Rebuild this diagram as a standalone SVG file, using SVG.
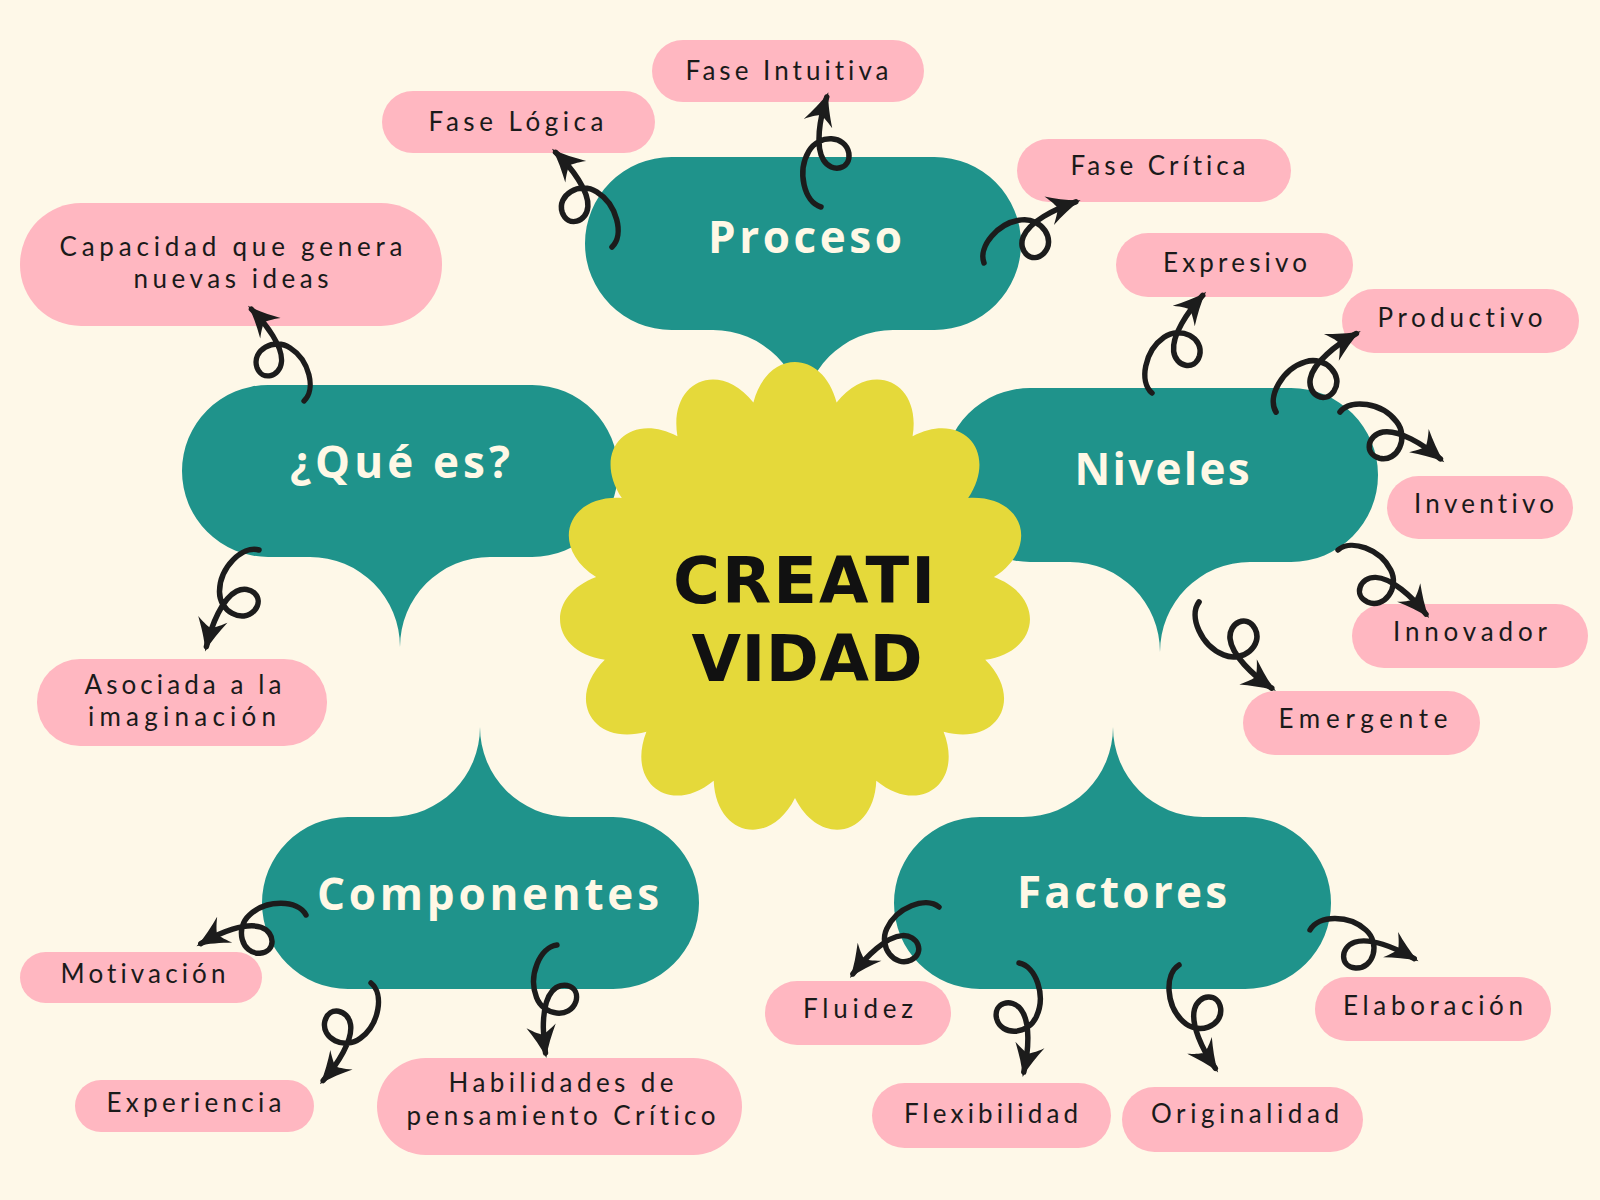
<svg xmlns="http://www.w3.org/2000/svg" xmlns:xlink="http://www.w3.org/1999/xlink" width="1600" height="1200" viewBox="0 0 1600 1200">
<style>
.bubble{fill:#1f938b}
.pill{fill:#ffb7c1}
.title{font-family:"Open Sans","DejaVu Sans",sans-serif;font-weight:700;font-size:44px;fill:#fff8e6;text-anchor:middle}
.center{font-family:"DejaVu Sans","Open Sans",sans-serif;font-weight:700;font-size:64px;fill:#111111;text-anchor:middle}
.lbl{font-family:Lato,"Liberation Sans",sans-serif;font-weight:400;font-size:26px;fill:#1a1a1a;text-anchor:middle;font-variant-ligatures:none;font-feature-settings:"liga" 0}
.curl{fill:none;stroke:#1c1c1c;stroke-width:5.5;stroke-linecap:round;stroke-linejoin:round}
</style>
<defs>
<marker id="ah" markerUnits="userSpaceOnUse" markerWidth="44" markerHeight="44" viewBox="-32 -22 44 44" refX="0" refY="0" orient="auto" overflow="visible">
<path d="M5,0 C-7,-3.5 -18,-9.5 -28,-15 C-22,-7 -20,-2.5 -19,0 C-20,2.5 -22,7 -28,15 C-18,9.5 -7,3.5 5,0Z" fill="#1c1c1c"/>
</marker>
<path id="curl" class="curl" marker-end="url(#ah)" d="M0,0 C4,-17 34,-26 55,-15 C73,-6 73,21 55,25 C39,28 34,9 47,0 C60,-9 88,-6 110,0"/>
</defs>
<rect width="1600" height="1200" fill="#fef8e8"/>

<g id="n-proceso">
<path class="bubble" d="M671.5,157 H934.5 A86.5,86.5 0 0 1 934.5,330 H893 A90,90 0 0 0 803,420 A90,90 0 0 0 713,330 H671.5 A86.5,86.5 0 0 1 671.5,157 Z"/>
<text class="title" x="805" y="253" textLength="194" lengthAdjust="spacing">Proceso</text>
</g>
<g id="n-que-es">
<path class="bubble" d="M268,385 H532 A86,86 0 0 1 532,557 H490 A90,90 0 0 0 400,647 A90,90 0 0 0 310,557 H268 A86,86 0 0 1 268,385 Z"/>
<text class="title" x="400" y="478" textLength="220" lengthAdjust="spacing">¿Qué es?</text>
</g>
<g id="n-niveles">
<path class="bubble" d="M1030,388 H1291 A87,87 0 0 1 1291,562 H1250 A90,90 0 0 0 1160,652 A90,90 0 0 0 1070,562 H1030 A87,87 0 0 1 1030,388 Z"/>
<text class="title" x="1162" y="485" textLength="175" lengthAdjust="spacing">Niveles</text>
</g>
<g id="n-componentes">
<path class="bubble" d="M348,817 H390 A90,90 0 0 0 480,727 A90,90 0 0 0 570,817 H613 A86,86 0 0 1 613,989 H348 A86,86 0 0 1 348,817 Z"/>
<text class="title" x="488" y="910" textLength="342" lengthAdjust="spacing">Componentes</text>
</g>
<g id="n-factores">
<path class="bubble" d="M980,817 H1023 A90,90 0 0 0 1113,727 A90,90 0 0 0 1203,817 H1245 A86,86 0 0 1 1245,989 H980 A86,86 0 0 1 980,817 Z"/>
<text class="title" x="1122" y="908" textLength="210" lengthAdjust="spacing">Factores</text>
</g>

<g id="n-creatividad">
<path fill="#e5d93a" d="M753.4,402.4 C767.4,348.4 822.6,348.4 836.6,402.4 C871.3,358.8 921.7,381.2 912.6,436.2 C962,410.5 999,451.5 968.2,498 C1023.9,494.7 1040.9,547.2 993.9,577.1 C1046.1,596.7 1040.3,651.6 985.2,659.8 C1025,698.9 997.4,746.7 943.6,731.8 C964,783.7 919.4,816.1 876.3,780.7 C873.9,836.4 819.9,847.8 795,798 C770.1,847.8 716.1,836.4 713.7,780.7 C670.6,816.1 626,783.7 646.4,731.8 C592.6,746.7 565,698.9 604.8,659.8 C549.7,651.6 543.9,596.7 596.1,577.1 C549.1,547.2 566.1,494.7 621.8,498 C591,451.5 628,410.5 677.4,436.2 C668.3,381.2 718.7,358.8 753.4,402.4 Z"/>
<text class="center" x="804" y="603" textLength="262" lengthAdjust="spacing">CREATI</text>
<text class="center" x="807" y="681" textLength="231" lengthAdjust="spacing">VIDAD</text>
</g>

<g id="n-capacidad">
<rect class="pill" x="20" y="203" width="422" height="123" rx="61"/>
<text class="lbl" x="231" y="256" textLength="343" lengthAdjust="spacing">Capacidad que genera</text>
<text class="lbl" x="231" y="288" textLength="195" lengthAdjust="spacing">nuevas ideas</text>
</g>
<g id="n-asociada">
<rect class="pill" x="37" y="659" width="290" height="87" rx="43"/>
<text class="lbl" x="183" y="694" textLength="197" lengthAdjust="spacing">Asociada a la</text>
<text class="lbl" x="182" y="726" textLength="188" lengthAdjust="spacing">imaginación</text>
</g>
<g id="n-fase-logica">
<rect class="pill" x="382" y="91" width="273" height="62" rx="31"/>
<text class="lbl" x="516" y="131" textLength="175" lengthAdjust="spacing">Fase Lógica</text>
</g>
<g id="n-fase-intuitiva">
<rect class="pill" x="652" y="40" width="272" height="62" rx="31"/>
<text class="lbl" x="787" y="80" textLength="203" lengthAdjust="spacing">Fase Intuitiva</text>
</g>
<g id="n-fase-critica">
<rect class="pill" x="1017" y="139" width="274" height="63" rx="31.5"/>
<text class="lbl" x="1158" y="175" textLength="175" lengthAdjust="spacing">Fase Crítica</text>
</g>
<g id="n-expresivo">
<rect class="pill" x="1116" y="233" width="237" height="64" rx="32"/>
<text class="lbl" x="1235" y="272" textLength="144" lengthAdjust="spacing">Expresivo</text>
</g>
<g id="n-productivo">
<rect class="pill" x="1342" y="289" width="237" height="64" rx="32"/>
<text class="lbl" x="1460" y="327" textLength="165" lengthAdjust="spacing">Productivo</text>
</g>
<g id="n-inventivo">
<rect class="pill" x="1387" y="476" width="186" height="63" rx="31.5"/>
<text class="lbl" x="1484" y="513" textLength="140" lengthAdjust="spacing">Inventivo</text>
</g>
<g id="n-innovador">
<rect class="pill" x="1352" y="604" width="236" height="64" rx="32"/>
<text class="lbl" x="1470" y="641" textLength="154" lengthAdjust="spacing">Innovador</text>
</g>
<g id="n-emergente">
<rect class="pill" x="1243" y="691" width="237" height="64" rx="32"/>
<text class="lbl" x="1363" y="728" textLength="169" lengthAdjust="spacing">Emergente</text>
</g>
<g id="n-motivacion">
<rect class="pill" x="20" y="952" width="242" height="51" rx="25.5"/>
<text class="lbl" x="143" y="983" textLength="165" lengthAdjust="spacing">Motivación</text>
</g>
<g id="n-experiencia">
<rect class="pill" x="75" y="1080" width="239" height="52" rx="26"/>
<text class="lbl" x="194" y="1112" textLength="175" lengthAdjust="spacing">Experiencia</text>
</g>
<g id="n-habilidades">
<rect class="pill" x="377" y="1058" width="365" height="97" rx="48.5"/>
<text class="lbl" x="561" y="1092" textLength="225" lengthAdjust="spacing">Habilidades de</text>
<text class="lbl" x="561" y="1125" textLength="309" lengthAdjust="spacing">pensamiento Crítico</text>
</g>
<g id="n-fluidez">
<rect class="pill" x="765" y="981" width="186" height="64" rx="32"/>
<text class="lbl" x="858" y="1018" textLength="110" lengthAdjust="spacing">Fluidez</text>
</g>
<g id="n-flexibilidad">
<rect class="pill" x="872" y="1083" width="239" height="65" rx="32.5"/>
<text class="lbl" x="991" y="1123" textLength="174" lengthAdjust="spacing">Flexibilidad</text>
</g>
<g id="n-originalidad">
<rect class="pill" x="1122" y="1087" width="241" height="65" rx="32.5"/>
<text class="lbl" x="1245" y="1123" textLength="188" lengthAdjust="spacing">Originalidad</text>
</g>
<g id="n-elaboracion">
<rect class="pill" x="1315" y="977" width="236" height="64" rx="32"/>
<text class="lbl" x="1433" y="1015" textLength="180" lengthAdjust="spacing">Elaboración</text>
</g>

<g id="connectors">
<use xlink:href="#curl" transform="matrix(-0.4783 -0.8348 -0.8348 0.4783 304 401)"/>
<use xlink:href="#curl" transform="matrix(-0.4783 0.8783 0.8783 0.4783 259 550)"/>
<use xlink:href="#curl" transform="matrix(-0.5130 -0.8609 -0.8609 0.5130 612 247)"/>
<use xlink:href="#curl" transform="matrix(0.0522 -1 1 0.0522 821 207)"/>
<use xlink:href="#curl" transform="matrix(0.8348 -0.5565 0.5565 0.8348 984 263)"/>
<use xlink:href="#curl" transform="matrix(0.4609 -0.8870 0.8870 0.4609 1152 393)"/>
<use xlink:href="#curl" transform="matrix(0.7304 -0.7130 0.7130 0.7304 1276 412)"/>
<use xlink:href="#curl" transform="matrix(0.9130 0.4261 -0.4261 0.9130 1340 412)"/>
<use xlink:href="#curl" transform="matrix(0.8 0.5826 -0.5826 0.8 1338 550)"/>
<use xlink:href="#curl" transform="matrix(0.6609 0.7826 0.7826 -0.6609 1199 602)"/>
<use xlink:href="#curl" transform="matrix(-0.9565 0.2609 0.2609 0.9565 306 915)"/>
<use xlink:href="#curl" transform="matrix(-0.4348 0.8870 -0.8870 -0.4348 371 983)"/>
<use xlink:href="#curl" transform="matrix(-0.1043 0.9826 0.9826 0.1043 557 945)"/>
<use xlink:href="#curl" transform="matrix(-0.7826 0.6087 0.6087 0.7826 939 907)"/>
<use xlink:href="#curl" transform="matrix(0.0435 0.9913 -0.9913 0.0435 1019 963)"/>
<use xlink:href="#curl" transform="matrix(0.3304 0.9391 0.9391 -0.3304 1179 965)"/>
<use xlink:href="#curl" transform="matrix(0.9478 0.2609 -0.2609 0.9478 1310 930)"/>
</g>
</svg>
